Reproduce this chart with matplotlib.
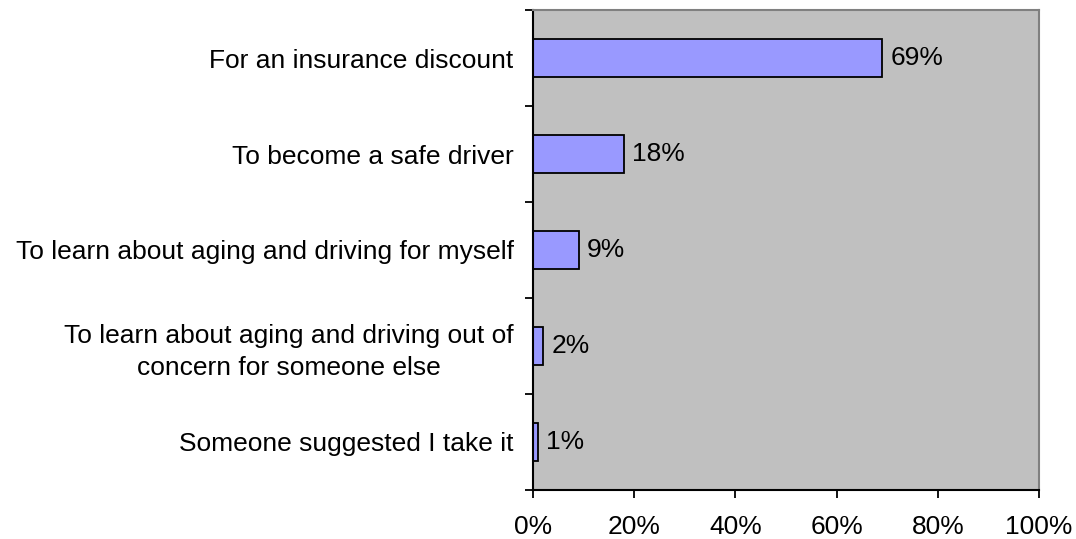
import matplotlib
matplotlib.use("Agg")
import matplotlib.pyplot as plt
from matplotlib.ticker import FixedLocator, NullFormatter

plt.rcParams['font.family'] = ['Liberation Sans', 'DejaVu Sans']

# survey answers, top to bottom
reasons = [
    'For an insurance discount',
    'To become a safe driver',
    'To learn about aging and driving for myself',
    'To learn about aging and driving out of\nconcern for someone else',
    'Someone suggested I take it',
]
shares = [69, 18, 9, 2, 1]   # percent
xticks = [0, 20, 40, 60, 80, 100]

fs = 19

fig = plt.figure(figsize=(10.76, 5.39), dpi=100)
ax = fig.add_axes([533 / 1076, 1 - 490 / 539, 506 / 1076, 480 / 539])
ax.set_facecolor('#C0C0C0')

ypos = list(range(len(reasons)))
ax.barh(ypos, shares, height=0.4, color='#9999FF', edgecolor='black', linewidth=1.3)

for y, v in zip(ypos, shares):
    ax.annotate(f'{v}%', (v, y), xytext=(6, 0), textcoords='offset points',
                va='center', ha='left', fontsize=fs)

ax.set_xlim(0, 100)
ax.set_ylim(len(reasons) - 0.5, -0.5)
ax.set_xticks(xticks)
ax.set_xticklabels([f'{t}%' for t in xticks], fontsize=fs)

# labels at bar centres, tick marks on category boundaries
ax.set_yticks(ypos)
ax.set_yticklabels(reasons, fontsize=fs, multialignment='center', linespacing=1.4)
ax.tick_params(axis='y', which='major', length=0, pad=14)
ax.yaxis.set_minor_locator(FixedLocator([i - 0.5 for i in range(len(reasons) + 1)]))
ax.yaxis.set_minor_formatter(NullFormatter())
ax.tick_params(axis='y', which='minor', length=6, width=1.3, direction='out')
ax.tick_params(axis='x', length=6, width=1.3, direction='out', pad=12)

ax.spines['left'].set_linewidth(1.5)
ax.spines['bottom'].set_linewidth(1.5)
ax.spines['top'].set_color('#808080')
ax.spines['right'].set_color('#808080')
ax.spines['top'].set_linewidth(1.5)
ax.spines['right'].set_linewidth(1.5)

fig.savefig('out.png', dpi=100)
